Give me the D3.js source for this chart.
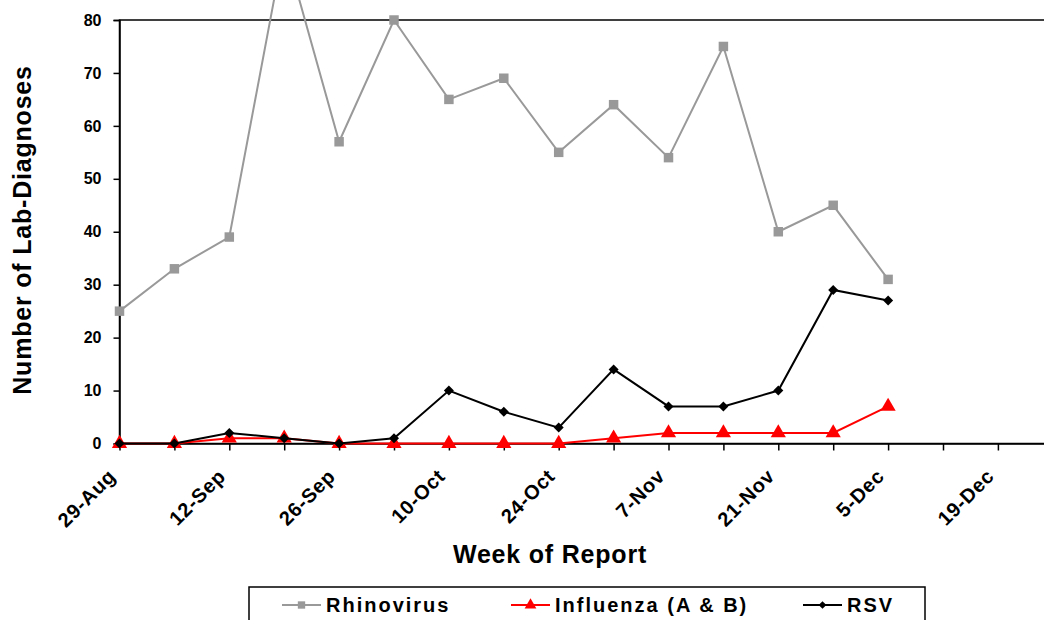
<!DOCTYPE html>
<html>
<head>
<meta charset="utf-8">
<script src="https://cdn.jsdelivr.net/npm/d3@7"></script>
<style>
  body { margin: 0; background: #fff; }
  svg { display: block; font-family: "Liberation Sans", Arial, sans-serif; font-weight: bold; }
</style>
</head>
<body>
<div id="chart"></div>
<script>
// week labels on the category axis (one per week)
const weeks = ["29-Aug", "5-Sep", "12-Sep", "19-Sep", "26-Sep", "3-Oct", "10-Oct", "17-Oct", "24-Oct",
    "31-Oct", "7-Nov", "14-Nov", "21-Nov", "28-Nov", "5-Dec", "12-Dec", "19-Dec", "26-Dec"];

// series values, one per reported week
const rhinovirus = [25, 33, 39, 94, 57, 80, 65, 69, 55, 64, 54, 75, 40, 45, 31];
const influenza = [0, 0, 1, 1, 0, 0, 0, 0, 0, 1, 2, 2, 2, 2, 7];
const rsv = [0, 0, 2, 1, 0, 1, 10, 6, 3, 14, 7, 7, 10, 29, 27];

const yTicks = [0, 10, 20, 30, 40, 50, 60, 70, 80];

const W = 1044, H = 620;
const plot = {left: 119.5, top: 20, bottom: 443.5, step: 54.9};

const svg = d3.select("#chart").append("svg")
    .attr("width", W)
    .attr("height", H);

// scales
const x = d3.scalePoint()
    .domain(weeks)
    .range([plot.left, plot.left + plot.step * (weeks.length - 1)]);

const y = d3.scaleLinear()
    .domain([0, 80])
    .range([plot.bottom, plot.top]);

// plot area frame (top / right)
svg.append("rect")
    .attr("x", plot.left)
    .attr("y", plot.top)
    .attr("width", plot.step * (weeks.length - 1))
    .attr("height", plot.bottom - plot.top)
    .attr("fill", "none")
    .attr("stroke", "#000")
    .attr("stroke-width", 1.5);

// y axis
const yAxis = svg.append("g")
    .attr("transform", `translate(${plot.left},0)`)
    .call(d3.axisLeft(y).tickValues(yTicks).tickSize(6).tickPadding(12));
yAxis.select(".domain").attr("stroke-width", 1.5);
yAxis.selectAll(".tick line").attr("stroke-width", 1.5);
yAxis.selectAll("text")
    .style("font-size", "16px")
    .style("font-family", "'Liberation Sans', Arial, sans-serif")
    .style("font-weight", "bold")
    .attr("fill", "#000");

// x axis
const xAxis = svg.append("g")
    .attr("transform", `translate(0,${plot.bottom})`)
    .call(d3.axisBottom(x).tickSize(7).tickSizeOuter(0)
        .tickFormat((d, i) => i % 2 === 0 ? d : ""));
xAxis.select(".domain").attr("stroke-width", 1.5);
xAxis.selectAll(".tick line").attr("stroke-width", 1.5);
xAxis.selectAll("text")
    .style("font-size", "20px")
    .style("font-family", "'Liberation Sans', Arial, sans-serif")
    .style("font-weight", "bold")
    .style("letter-spacing", "0.7px")
    .attr("fill", "#000")
    .attr("text-anchor", "end")
    .attr("dy", null)
    .attr("y", 0)
    .attr("transform", "translate(-3,34) rotate(-45)");

// axis titles
svg.append("text")
    .attr("x", 550)
    .attr("y", 563)
    .attr("text-anchor", "middle")
    .style("font-size", "25px")
    .style("letter-spacing", "0.8px")
    .text("Week of Report");

svg.append("text")
    .attr("transform", "translate(31,230) rotate(-90)")
    .attr("text-anchor", "middle")
    .style("font-size", "25px")
    .style("letter-spacing", "0.8px")
    .text("Number of Lab-Diagnoses");

// series
const series = [
    {name: "Rhinovirus", values: rhinovirus, color: "#999999", symbol: d3.symbolSquare, size: 90, rot: 0},
    {name: "Influenza (A & B)", values: influenza, color: "#ff0000", symbol: d3.symbolTriangle, size: 100, rot: 0},
    {name: "RSV", values: rsv, color: "#000000", symbol: d3.symbolSquare, size: 50, rot: 45}
];

const line = d3.line()
    .x((d, i) => x(weeks[i]))
    .y(d => y(d));

series.forEach(s => {
    svg.append("path")
        .datum(s.values)
        .attr("fill", "none")
        .attr("stroke", s.color)
        .attr("stroke-width", 2)
        .attr("d", line);

    svg.append("g")
        .selectAll("path")
        .data(s.values)
        .join("path")
        .attr("transform", (d, i) => `translate(${x(weeks[i])},${y(d)}) rotate(${s.rot})`)
        .attr("d", d3.symbol().type(s.symbol).size(s.size))
        .attr("fill", s.color);
});

// legend
svg.append("rect")
    .attr("x", 249)
    .attr("y", 587)
    .attr("width", 676)
    .attr("height", 60)
    .attr("fill", "#fff")
    .attr("stroke", "#000")
    .attr("stroke-width", 1.5);

const legendX = [282, 511, 803];
series.forEach((s, i) => {
    const g = svg.append("g").attr("transform", `translate(${legendX[i]},605)`);
    g.append("line")
        .attr("x1", 0).attr("x2", 39)
        .attr("stroke", s.color)
        .attr("stroke-width", 2);
    g.append("path")
        .attr("transform", `translate(19.5,0) rotate(${s.rot})`)
        .attr("d", d3.symbol().type(s.symbol).size(s.size * 0.6))
        .attr("fill", s.color);
    g.append("text")
        .attr("x", 44)
        .attr("y", 7)
        .style("font-size", "20px")
        .style("letter-spacing", "2px")
        .text(s.name);
});
</script>
</body>
</html>
